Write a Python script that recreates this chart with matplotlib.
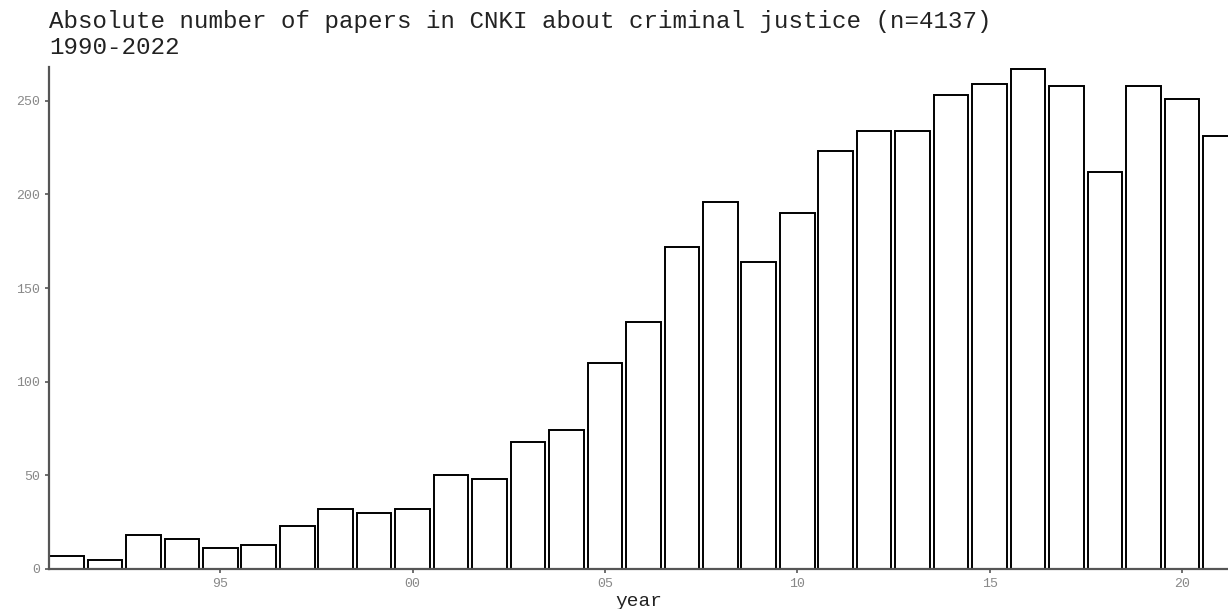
import numpy as np
from matplotlib import pyplot as plt

# papers per year (1991-2021)
years = np.arange(1991, 2022)
papers = [7, 5, 18, 16, 11, 13, 23, 32, 30, 32,
          50, 48, 68, 74, 110, 132, 172, 196, 164, 190,
          223, 234, 234, 253, 259, 267, 258, 212, 258, 251, 231]
tick_years = [1995, 2000, 2005, 2010, 2015, 2020]
tick_labels = ['95', '00', '05', '10', '15', '20']

plt.rcParams['font.family'] = ['Liberation Mono', 'DejaVu Sans Mono']

fig = plt.figure(figsize=(12.28, 6.09), dpi=100)
ax = fig.add_axes([0.04, 0.0657, 0.96, 0.8243])

ax.bar(years, papers, width=0.9, facecolor='white', edgecolor='black', linewidth=1.4)

ax.set_xlim(1990.55, 2021.2)
ax.set_ylim(0, 268)
ax.set_yticks([0, 50, 100, 150, 200, 250])
ax.set_xticks(tick_years)
ax.set_xticklabels(tick_labels)

for s in ['top', 'right']:
    ax.spines[s].set_visible(False)
for s in ['left', 'bottom']:
    ax.spines[s].set_color('#555555')
    ax.spines[s].set_linewidth(1.6)
ax.tick_params(colors='#555555', labelcolor='#888888', labelsize=9.5, length=3, width=1.2)

ax.set_xlabel('year', fontsize=14, color='#222222', labelpad=2)

fig.text(0.04, 1 - 28 / 609, 'Absolute number of papers in CNKI about criminal justice (n=4137)',
         fontsize=17.4, va='baseline', ha='left', color='#222222')
fig.text(0.04, 1 - 54 / 609, '1990-2022', fontsize=17.4, va='baseline', ha='left', color='#222222')

plt.savefig('out.png', dpi=100)
